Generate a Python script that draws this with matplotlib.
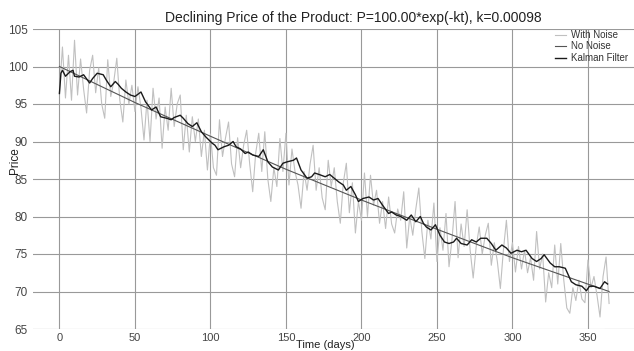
import matplotlib
matplotlib.use("Agg")
import matplotlib.pyplot as plt
import numpy as np

plt.rcParams['font.family'] = ['Liberation Sans', 'DejaVu Sans']

# noisy price, one reading every second day (day 0 .. 364)
noise_days = np.arange(0, 365, 2)
noise_price = [
    96.5, 102.6, 95.8, 101.5, 95.5, 103.5, 96.2, 101.0, 97.0, 93.8, 99.5, 101.5,
    96.5, 99.8, 95.0, 93.1, 100.9, 96.0, 98.0, 101.1, 95.5, 92.6, 98.2, 95.0,
    97.5, 94.0, 97.3, 94.5, 90.2, 95.5, 90.0, 97.1, 93.0, 95.8, 89.1, 94.6,
    91.5, 97.1, 92.0, 95.0, 96.2, 88.9, 93.5, 88.6, 93.3, 90.0, 93.0, 88.0,
    91.5, 86.2, 91.0, 86.5, 85.5, 92.9, 88.0, 90.5, 92.6, 87.0, 85.3, 90.5,
    86.5, 89.5,
    91.5, 87.0, 83.3, 88.5, 91.1, 86.0, 91.3, 85.0, 82.0, 86.5, 84.0, 90.4,
    86.0, 91.1, 84.2, 89.0, 86.0, 84.2, 81.1, 86.0, 83.5, 87.0, 89.5, 83.5,
    86.5, 82.5, 80.9, 87.5, 84.0, 86.5, 82.0, 79.1, 84.5, 87.1, 80.5, 84.5,
    77.8, 82.0, 79.5, 85.8, 80.0, 85.5, 81.5, 83.5, 79.1, 82.0, 78.4, 82.6,
    79.0, 77.8, 81.0, 79.5, 83.3, 75.8, 80.0, 77.5, 81.0, 83.8, 78.0, 74.4,
    79.5,
    77.0, 81.8, 74.0, 78.5, 75.5, 80.4, 73.3, 77.0, 82.0, 74.5, 79.0, 76.0,
    80.9, 75.5, 71.8, 76.0, 78.6, 75.0, 77.5, 79.1, 73.5, 76.5, 74.0, 70.4,
    75.5, 79.5, 74.0, 76.5, 72.6, 76.0, 73.0, 75.5, 72.5, 74.5, 71.5, 78.0,
    73.0, 75.0, 68.6, 72.5, 70.5, 76.2, 71.0, 76.4, 71.5, 67.8, 67.1, 70.5,
    68.8, 71.5, 69.0, 68.5, 74.2, 70.5, 72.0, 69.5, 66.6, 72.0, 74.6, 68.4,
]

# noise-free price
true_days = [0, 50, 100, 150, 200, 250, 300, 364]
true_price = [100.0, 95.2, 90.7, 86.3, 82.2, 78.3, 74.5, 70.0]

# Kalman filter estimate
kalman_days = [
    0, 1, 2, 4, 6, 7, 9, 10, 13, 16, 20, 22, 25, 29, 31, 34, 37, 39, 41, 44,
    47, 50, 54, 57, 61, 64, 67, 71, 74, 76, 80, 82, 85, 88, 91, 94, 97, 101,
    103, 105, 109, 112, 115, 117, 120, 123, 125, 128, 132, 135, 138, 141, 145,
    148, 151, 155, 157, 160, 164, 167, 169, 172, 176, 179, 182, 185, 188, 190,
    193, 196, 198, 201, 205, 208, 211, 214, 218, 220, 223, 226, 230, 233, 236,
    239, 241, 243, 246, 249, 252, 255, 258, 261, 263, 266, 270, 273, 276, 279,
    283, 286, 289, 293, 296, 299, 303, 306, 309, 313, 316, 319, 321, 325, 328,
    331, 335, 337, 339, 342, 346, 349, 351, 354, 358, 361, 363,
]
kalman_price = [
    96.4, 99.1, 99.5, 98.7, 99.1, 99.3, 99.5, 98.7, 98.6, 98.9, 97.8, 98.4,
    99.1, 98.9, 98.2, 97.3, 98.0, 97.6, 97.1, 96.6, 96.2, 96.0, 96.6, 95.3,
    94.2, 94.6, 93.3, 93.1, 92.9, 93.2, 93.5, 93.1, 92.4, 92.0, 92.5, 91.3,
    90.6, 89.8, 89.5, 88.9, 89.3, 89.5, 90.0, 89.3, 89.0, 88.4, 88.6, 88.2,
    88.0, 88.9, 87.3, 86.6, 86.2, 87.1, 87.3, 87.5, 87.8, 86.2, 85.1, 85.3,
    85.8, 85.6, 85.3, 85.6, 85.1, 84.6, 84.2, 83.5, 84.0, 82.9, 82.0, 82.4,
    82.6, 82.2, 82.4, 81.5, 80.4, 80.6, 80.2, 80.0, 79.5, 80.2, 79.3, 80.0,
    79.1, 78.6, 78.2, 78.9, 77.5, 76.6, 76.4, 76.6, 77.1, 76.4, 76.2, 76.9,
    76.6, 77.1, 77.1, 76.4, 75.5, 76.2, 75.8, 75.1, 75.5, 75.3, 75.5, 74.4,
    74.0, 74.4, 74.9, 73.8, 73.3, 73.3, 73.1, 72.2, 71.3, 70.9, 70.7, 70.1,
    70.7, 70.7, 70.4, 71.3, 71.0,
]

fig = plt.figure(figsize=(6.34, 3.51), dpi=100)
ax = fig.add_axes([33 / 634, 22 / 351, 601 / 634, 300 / 351])

ax.plot(noise_days, noise_price, color='#c0c0c0', lw=0.8, label='With Noise')
ax.plot(true_days, true_price, color='#555555', lw=0.8, label='No Noise')
ax.plot(kalman_days, kalman_price, color='#1a1a1a', lw=1.0, label='Kalman Filter')

ax.set_xlim(-17.5, 380.5)
ax.set_ylim(65, 105)
ax.set_xticks(np.arange(0, 351, 50))
ax.set_yticks(np.arange(65, 106, 5))
ax.tick_params(length=0, labelsize=8.5, labelcolor='#444444', pad=4)
ax.tick_params(axis='x', labelsize=8, pad=3)
ax.grid(True, color='#999999', lw=0.8)
ax.set_axisbelow(True)
for s in ax.spines.values():
    s.set_visible(False)
# faint base line stubs at both ends
ax.axhline(65, xmin=0, xmax=0.037, color='#cccccc', lw=0.8)
ax.axhline(65, xmin=0.952, xmax=1, color='#cccccc', lw=0.8)

ax.set_xlabel('Time (days)', fontsize=8, color='#222222')
ax.xaxis.set_label_coords((325 - 33) / 601, -(345 - 329) / 300)
ax.xaxis.label.set_va('center')
ax.set_ylabel('Price', fontsize=8.5, color='#222222')
ax.yaxis.set_label_coords((15 - 33) / 601, (329 - 161) / 300)
ax.yaxis.label.set_va('center')

fig.text(353 / 634, 1 - 18 / 351,
         'Declining Price of the Product: P=100.00*exp(-kt), k=0.00098',
         ha='center', va='center', fontsize=10, color='#222222')

ax.legend(loc='upper left', bbox_to_anchor=(555 / 634, 1 - 30 / 351),
          bbox_transform=fig.transFigure, frameon=False, fontsize=7,
          handlelength=1.1, handletextpad=0.5, labelspacing=0.15,
          borderpad=0, borderaxespad=0, labelcolor='#333333')

fig.savefig('out.png', dpi=100)
